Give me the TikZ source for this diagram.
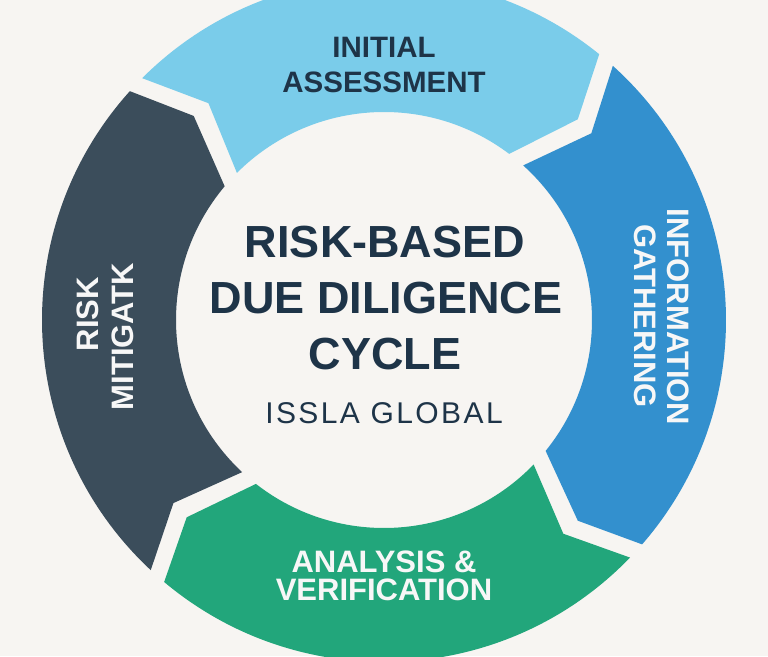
\documentclass[tikz,border=0pt]{standalone}
\usepackage{fontspec}
\setmainfont{Liberation Sans}
\newfontfamily\spacedfont[LetterSpace=8]{Liberation Sans}
\definecolor{bgc}{HTML}{F7F5F2}
\definecolor{segLight}{HTML}{7ACCEA}
\definecolor{segBlue}{HTML}{3390CE}
\definecolor{segGreen}{HTML}{22A67B}
\definecolor{segSlate}{HTML}{3B4D5B}
\definecolor{navy}{HTML}{1E3448}
\definecolor{offwhite}{HTML}{F7F7F7}
% #1 tail boundary angle, #2 head boundary angle, #3 colour
\newcommand\ringseg[3]{%
  \fill[#3] ({#1-2}:342pt) -- ({#1-8}:279pt) -- ({#1-2}:208pt)
    arc[start angle={#1-2}, end angle={#2+3}, radius=208pt]
    -- ({#2-4}:279pt) -- ({#2+1}:342pt)
    arc[start angle={#2+1}, end angle={#1-2}, radius=342pt] -- cycle;}
\begin{document}
\begin{tikzpicture}[x=1pt,y=1pt,
  lbl/.style={font=\fontsize{31}{31}\selectfont\bfseries, inner sep=0pt, anchor=base},
  toplbl/.style={font=\fontsize{29.5}{29.5}\selectfont\bfseries, text=navy, inner sep=0pt, anchor=base},
  ttl/.style={font=\fontsize{45}{45}\selectfont\bfseries, text=navy, inner sep=0pt, anchor=base},
  subttl/.style={font=\fontsize{30}{30}\selectfont\spacedfont, text=navy, inner sep=0pt, anchor=base}]
\fill[bgc] (-384,-336) rectangle (384,320);
\useasboundingbox (-384,-336) rectangle (384,320);
\clip (-384,-336) rectangle (384,320);
\ringseg{137}{50}{segLight}
\ringseg{50}{-42}{segBlue}
\ringseg{-42}{-131}{segGreen}
\ringseg{-131}{-223}{segSlate}
% centre title
\node[ttl] (t1) at (1,63) {RISK-BASED};
\node[ttl] (t2) at (2,7) {DUE DILIGENCE};
\node[ttl] (t3) at (1,-49) {CYCLE};
\node[subttl] (sub) at (0,-103) {ISSLA GLOBAL};
% segment labels
\node[toplbl] (ia1) at (0,262) {INITIAL};
\node[toplbl] (ia2) at (0,227) {ASSESSMENT};
\node[lbl, text=offwhite, rotate=-90] (ig1) at (283,3) {INFORMATION};
\node[lbl, text=offwhite, rotate=-90] (ig2) at (250,4) {GATHERING};
\node[lbl, text=offwhite] (av1) at (0,-252) {ANALYSIS \&};
\node[lbl, text=offwhite] (av2) at (0,-280) {VERIFICATION};
\node[lbl, text=offwhite, rotate=90] (rm1) at (-285,6) {RISK};
\node[lbl, text=offwhite, rotate=90] (rm2) at (-250,-16.5) {MITIGATK};
\end{tikzpicture}
\end{document}
